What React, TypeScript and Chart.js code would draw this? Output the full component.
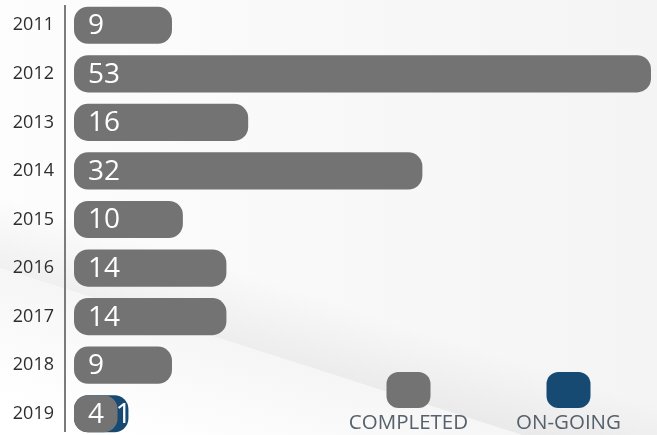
import React, { useEffect, useRef } from "react";
import { Chart, registerables } from "chart.js";

Chart.register(...registerables);

const years = ["2011", "2012", "2013", "2014", "2015", "2016", "2017", "2018", "2019"];
const completed = [9, 53, 16, 32, 10, 14, 14, 9, 4];
const ongoing = [0, 0, 0, 0, 0, 0, 0, 0, 1];
const seriesNames = ["COMPLETED", "ON-GOING"];
const seriesColors = ["#737373", "#164a73"];

const FONT = "'Open Sans', 'Noto Sans', sans-serif";

const bgPlugin = {
  id: "bg",
  beforeDraw(chart: any) {
    const { ctx, width, height } = chart;
    ctx.save();
    const g = ctx.createLinearGradient(0, 0, width, 0);
    g.addColorStop(0, "#fdfdfd");
    g.addColorStop(1, "#f4f4f4");
    ctx.fillStyle = g;
    ctx.fillRect(0, 0, width, height);
    const x0 = 0, y0 = 268, x1 = width, y1 = 268 + width * 0.32;
    const nx = 0.305, ny = -0.952;
    const mx = (x0 + x1) / 2, my = (y0 + y1) / 2;
    const sg = ctx.createLinearGradient(mx, my, mx + nx * 70, my + ny * 70);
    sg.addColorStop(0, "rgba(0,0,0,0.05)");
    sg.addColorStop(1, "rgba(0,0,0,0)");
    ctx.beginPath();
    ctx.moveTo(x0, y0);
    ctx.lineTo(x1, y1);
    ctx.lineTo(x1, y1 - 200);
    ctx.lineTo(x0, y0 - 200);
    ctx.closePath();
    ctx.fillStyle = sg;
    ctx.fill();
    const lg = ctx.createLinearGradient(mx, my, mx - nx * 120, my - ny * 120);
    lg.addColorStop(0, "#f6f6f6");
    lg.addColorStop(1, "#ffffff");
    ctx.beginPath();
    ctx.moveTo(x0, y0);
    ctx.lineTo(x1, y1);
    ctx.lineTo(x1, height + 200);
    ctx.lineTo(x0, height + 200);
    ctx.closePath();
    ctx.fillStyle = lg;
    ctx.fill();
    ctx.restore();
  },
};

const axisLinePlugin = {
  id: "axisLine",
  beforeDatasetsDraw(chart: any) {
    const { ctx, chartArea } = chart;
    const x = chartArea.left - 9;
    ctx.save();
    ctx.strokeStyle = "#7b7b7b";
    ctx.lineWidth = 2;
    ctx.beginPath();
    ctx.moveTo(x, 5);
    ctx.lineTo(x, 432);
    ctx.stroke();
    ctx.restore();
  },
};

const labelPlugin = {
  id: "valueLabels",
  afterDatasetsDraw(chart: any) {
    const { ctx } = chart;
    const xScale = chart.scales.x;
    ctx.save();
    ctx.fillStyle = "#ffffff";
    ctx.font = `28px ${FONT}`;
    ctx.textBaseline = "middle";
    ctx.textAlign = "left";
    const m0 = chart.getDatasetMeta(0);
    m0.data.forEach((el: any, i: number) => {
      if (completed[i] > 0) ctx.fillText(String(completed[i]), el.base + 14, el.y + 1);
    });
    const m1 = chart.getDatasetMeta(1);
    m1.data.forEach((el: any, i: number) => {
      if (ongoing[i] > 0) {
        ctx.fillText(String(ongoing[i]), xScale.getPixelForValue(completed[i]) - 2, el.y + 1);
      }
    });
    ctx.restore();
  },
};

const legendPlugin = {
  id: "customLegend",
  afterDraw(chart: any) {
    const { ctx } = chart;
    const centers = [408.5, 568.5];
    ctx.save();
    seriesNames.forEach((name, i) => {
      const cx = centers[i];
      ctx.fillStyle = seriesColors[i];
      ctx.beginPath();
      (ctx as any).roundRect(cx - 22, 372, 44, 36, 12);
      ctx.fill();
      ctx.fillStyle = "#56616c";
      ctx.font = `20.5px ${FONT}`;
      ctx.textAlign = "center";
      ctx.textBaseline = "middle";
      ctx.fillText(name, cx, 423);
    });
    ctx.restore();
  },
};

export default function App() {
  const ref = useRef<HTMLCanvasElement>(null);
  useEffect(() => {
    document.body.style.margin = "0";
    const totals = completed.map((c, i) => c + ongoing[i]);
    const chart = new Chart(ref.current as HTMLCanvasElement, {
      type: "bar",
      data: {
        labels: years,
        datasets: [
          {
            label: seriesNames[0],
            data: completed,
            backgroundColor: seriesColors[0],
            borderRadius: 14,
            borderSkipped: false,
            grouped: false,
            categoryPercentage: 1,
            barPercentage: 0.765,
          } as any,
          {
            label: seriesNames[1],
            data: totals.map((t, i) => (ongoing[i] > 0 ? t : null)),
            backgroundColor: seriesColors[1],
            borderRadius: 14,
            borderSkipped: false,
            grouped: false,
            categoryPercentage: 1,
            barPercentage: 0.765,
          } as any,
        ],
      },
      options: {
        indexAxis: "y",
        animation: false,
        responsive: false,
        maintainAspectRatio: false,
        layout: { padding: { top: 1, right: 6, bottom: 0, left: 0 } },
        plugins: { legend: { display: false }, tooltip: { enabled: false } },
        scales: {
          x: { display: false, min: 0, max: Math.max(...totals) },
          y: {
            grid: { display: false, drawTicks: false, tickLength: 0 },
            border: { display: false },
            ticks: { color: "#2e2e2e", font: { family: FONT, size: 18 }, padding: 20, maxRotation: 0, minRotation: 0 },
            afterFit: (scale: any) => {
              scale.width = 74;
              scale.paddingTop = 0;
              scale.paddingBottom = 0;
            },
          },
        },
      } as any,
      plugins: [bgPlugin, axisLinePlugin, labelPlugin, legendPlugin],
    });
    return () => chart.destroy();
  }, []);
  return (
    <div style={{ position: "absolute", left: 0, top: 0, width: 657, height: 435, overflow: "hidden" }}>
      <canvas ref={ref} width={657} height={438} style={{ display: "block" }} />
    </div>
  );
}
